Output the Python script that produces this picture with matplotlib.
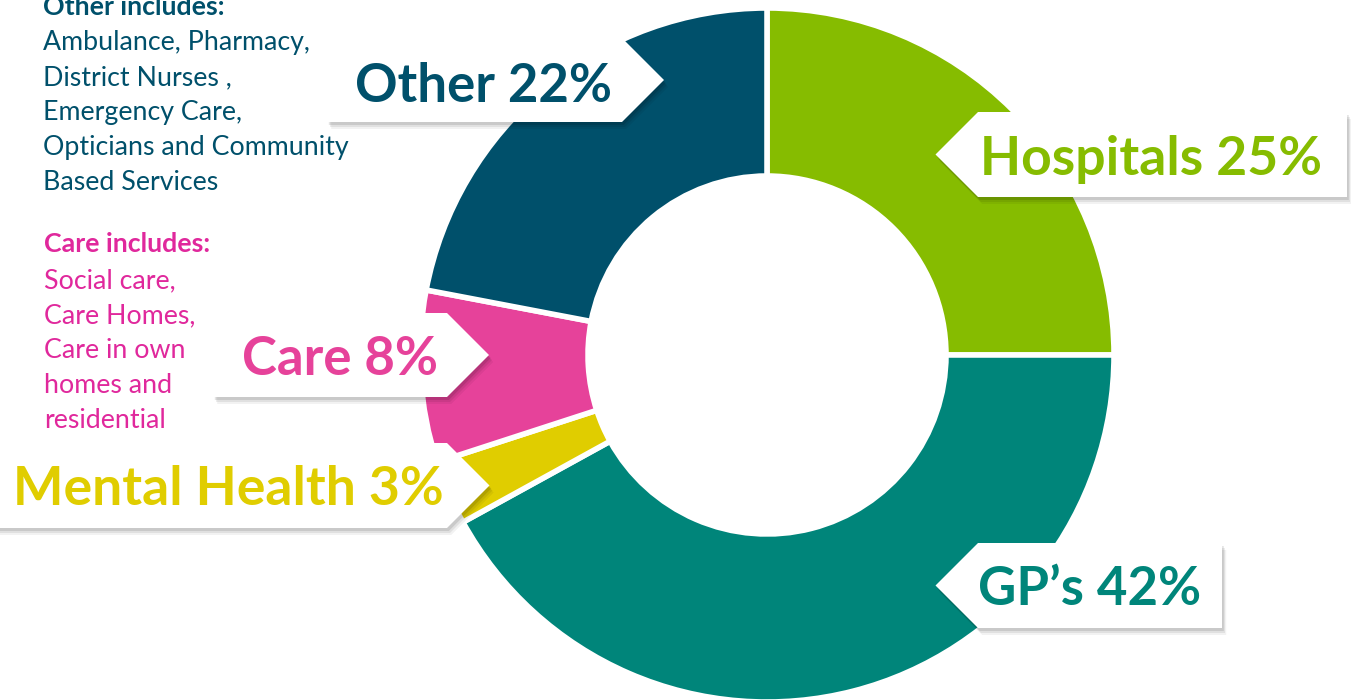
import numpy as np
import matplotlib
matplotlib.use('Agg')
import matplotlib.pyplot as plt
from matplotlib.patches import Polygon

plt.rcParams['font.family'] = ['Lato', 'DejaVu Sans']

# data
categories = ["Hospitals", "GP\u2019s", "Mental Health", "Care", "Other"]
shares = [25, 42, 3, 8, 22]
colors = ["#86BC00", "#00857A", "#E0CD00", "#E6429A", "#00506B"]

other_note = ["Ambulance, Pharmacy,", "District Nurses ,", "Emergency Care,",
              "Opticians and Community", "Based Services"]
care_note = ["Social care,", "Care Homes,", "Care in own", "homes and", "residential"]

W, H = 1351, 700
fig = plt.figure(figsize=(W / 100, H / 100), dpi=100)
ax = fig.add_axes([0, 0, 1, 1])

# donut, centre in pixel coords (y measured from the top)
cx, cy, R, ring = 767, 355, 347, 168
ax.pie(shares, colors=colors, startangle=90, counterclock=False,
       center=(cx, H - cy), radius=R,
       wedgeprops=dict(width=ring, edgecolor='white', linewidth=4))

ax.set_xlim(0, W)
ax.set_ylim(0, H)
ax.set_aspect('equal')
ax.axis('off')


def Y(y):
    return H - y


def callout(left, right, top, bottom, point):
    # point = 'left' or 'right'; arrow depth equals half height
    mid = (top + bottom) / 2
    d = (bottom - top) / 2
    if point == 'right':
        pts = [(left, top), (right, top), (right + d, mid), (right, bottom), (left, bottom)]
    else:
        pts = [(left, top), (left - d, mid), (left, bottom), (right, bottom), (right, top)]
    # soft shadow
    for k, a in [(7, 0.05), (5, 0.07), (3, 0.10)]:
        sh = [(x + k * 0.6, Y(y + k)) for x, y in pts]
        ax.add_patch(Polygon(sh, closed=True, fc='black', ec='none', alpha=a, zorder=3))
    ax.add_patch(Polygon([(x, Y(y)) for x, y in pts], closed=True,
                         fc='white', ec='none', zorder=4))


# label boxes: Hospitals, GP's, Mental Health, Care, Other
callout(978, 1347, 112, 197, 'left')
callout(978, 1222, 543, 628, 'left')
callout(-10, 447, 443, 528, 'right')
callout(213, 447, 313, 397, 'right')
callout(327, 622, 38, 122, 'right')

label_pos = [(980, 175), (978, 605), (13, 505), (242, 375), (355, 102)]
label_size = [38.5, 38, 38.5, 38, 38]
for (x, yb), cat, val, col, fs in zip(label_pos, categories, shares, colors, label_size):
    ax.text(x, Y(yb), "%s %d%%" % (cat, val), color=col, fontsize=fs,
            fontweight='bold', va='baseline', ha='left', zorder=5)

# side notes
other_col = "#00506B"
care_col = "#E0289C"
note_fs = 19.3
ax.text(43, Y(15), "Other includes:", color=other_col, fontsize=note_fs,
        fontweight='bold', va='baseline')
for i, line in enumerate(other_note):
    ax.text(43, Y(50 + 35 * i), line, color=other_col, fontsize=note_fs, va='baseline')

ax.text(44, Y(252), "Care includes:", color=care_col, fontsize=note_fs,
        fontweight='bold', va='baseline')
for i, line in enumerate(care_note):
    ax.text(44, Y(288 + 35 * i), line, color=care_col, fontsize=note_fs, va='baseline')

fig.savefig("out.png", dpi=100, facecolor='white')
